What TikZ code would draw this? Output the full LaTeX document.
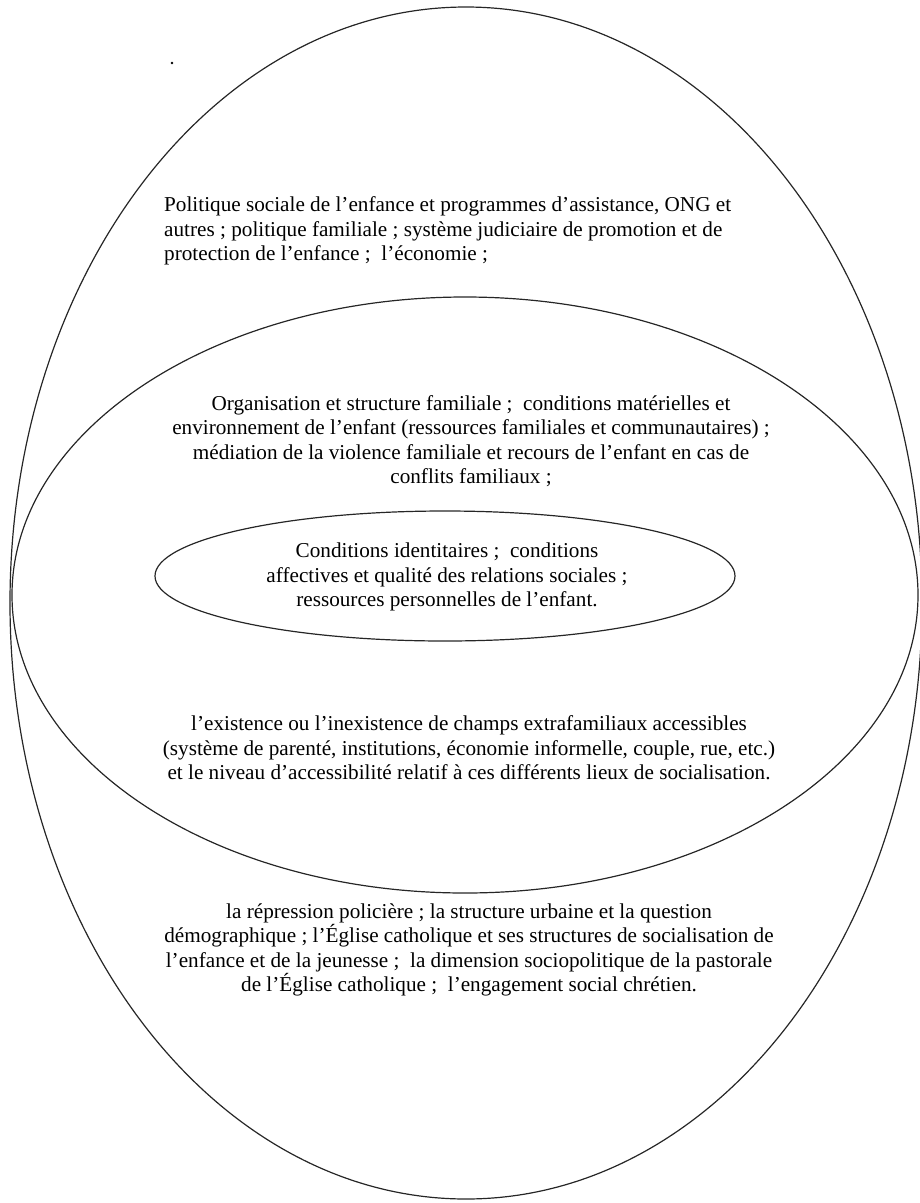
\documentclass[tikz,border=0pt]{standalone}
\usepackage{fontspec}
\setmainfont{Liberation Serif}
\begin{document}
\begin{tikzpicture}[x=1pt,y=-1pt,
  ring/.style={draw=black!85,line width=1.2pt},
  txt/.style={font=\fontsize{21.2}{24.5}\selectfont,inner sep=0pt,align=center}]
\useasboundingbox (0,0) rectangle (919,1203);
% nested spheres of influence
\draw[ring] (466,603) ellipse [x radius=456,y radius=596];
\draw[ring] (465,595) ellipse [x radius=453,y radius=298];
\draw[ring] (445,576) ellipse [x radius=290,y radius=65];
% stray mark near the top
\fill (172,63) circle [radius=1.3];
% texts
\node[txt,align=left,anchor=west] (macro) at (164,231)
  {Politique sociale de l’enfance et programmes d’assistance, ONG et\\
   autres ; politique familiale ; système judiciaire de promotion et de\\
   protection de l’enfance ;\ \ l’économie ;};
\node[txt] (famille) at (471,441)
  {Organisation et structure familiale ;\ \ conditions matérielles et\\
   environnement de l’enfant (ressources familiales et communautaires) ;\\
   médiation de la violence familiale et recours de l’enfant en cas de\\
   conflits familiaux ;};
\node[txt] (enfant) at (447,577)
  {Conditions identitaires ;\ \ conditions\\
   affectives et qualité des relations sociales ;\\
   ressources personnelles de l’enfant.};
\node[txt] (champs) at (469,748)
  {l’existence ou l’inexistence de champs extrafamiliaux accessibles\\
   (système de parenté, institutions, économie informelle, couple, rue, etc.)\\
   et le niveau d’accessibilité relatif à ces différents lieux de socialisation.};
\node[txt] (societe) at (469,950)
  {la répression policière ; la structure urbaine et la question\\
   démographique ; l’Église catholique et ses structures de socialisation de\\
   l’enfance et de la jeunesse ;\ \ la dimension sociopolitique de la pastorale\\
   de l’Église catholique ;\ \ l’engagement social chrétien.};
\end{tikzpicture}
\end{document}
